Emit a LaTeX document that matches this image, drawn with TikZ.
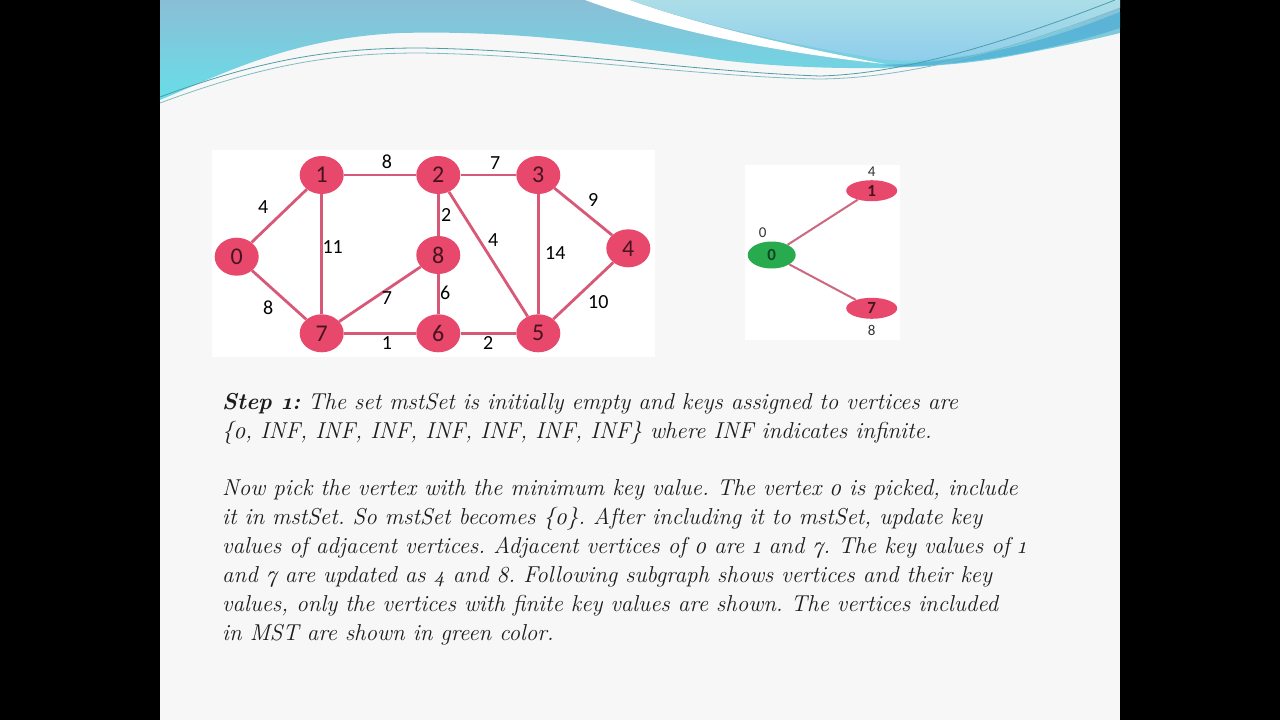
\documentclass[tikz,border=0pt]{standalone}
\usepackage{fontspec}
\setmainfont{Latin Modern Roman}[Numbers=OldStyle]
\newfontfamily\graphfont{Carlito}
\usetikzlibrary{positioning,calc,shapes.geometric}
\definecolor{slidebg}{RGB}{247,247,247}
\definecolor{wavetop}{RGB}{138,190,214}
\definecolor{wavecyan}{RGB}{104,222,232}
\definecolor{palewave}{RGB}{172,222,232}
\definecolor{palewavelow}{RGB}{140,204,236}
\definecolor{steelwave}{RGB}{82,176,214}
\definecolor{waveline}{RGB}{78,158,168}
\definecolor{vertexred}{RGB}{232,72,107}
\definecolor{edgered}{RGB}{216,88,120}
\definecolor{vertextext}{RGB}{70,20,32}
\definecolor{mstgreen}{RGB}{40,170,78}
\definecolor{msttext}{RGB}{20,70,35}
\definecolor{subedge}{RGB}{204,104,128}
\definecolor{textdark}{RGB}{28,28,28}

\begin{document}
\frenchspacing
\begin{tikzpicture}[
		x=1pt,
		y=-1pt,
		vertex/.style={
			ellipse,
			fill=vertexred,
			minimum width=44pt,
			minimum height=38pt,
			inner sep=0pt,
			text=vertextext,
			font=\graphfont\fontsize{24}{24}\selectfont
		},
		subvertex/.style={
			ellipse,
			fill=vertexred,
			minimum width=51pt,
			minimum height=21pt,
			inner sep=0pt,
			text=vertextext,
			font=\graphfont\bfseries\fontsize{17}{17}\selectfont
		},
		edge/.style={draw=edgered, line width=2.8pt},
		subedge/.style={draw=subedge, line width=2pt},
		weight/.style={font=\graphfont\fontsize{20}{20}\selectfont, text=black, inner sep=0pt},
		keylabel/.style={font=\graphfont\fontsize{15}{15}\selectfont, text=black!80, inner sep=0pt},
		para/.style={font=\itshape\fontsize{23}{29}\selectfont, text=textdark, align=left, inner sep=0pt}
	]
	
	% Page and slide
	\useasboundingbox (0,0) rectangle (1280,720);
	\fill[black] (0,0) rectangle (1280,720);
	\fill[slidebg] (160,0) rectangle (1120,720);
	
	% Header wave
	\shade[top color=wavetop, bottom color=wavecyan]
	(160,0) -- (160,100) .. controls (220,75) and (290,38) .. (400,33)
	.. controls (520,30) and (620,45) .. (720,60)
	.. controls (820,72) and (930,70) .. (1000,58)
	.. controls (1060,47) and (1100,38) .. (1120,33) -- (1120,0) -- cycle;
	\fill[white] (585,0) .. controls (660,28) and (770,52) .. (885,64)
	.. controls (780,44) and (690,22) .. (630,0) -- cycle;
	\shade[top color=palewave, bottom color=palewavelow]
	(630,0) .. controls (700,25) and (790,44) .. (885,60)
	.. controls (970,66) and (1060,32) .. (1120,8) -- (1120,0) -- cycle;
	\fill[steelwave, opacity=0.8] (880,65) .. controls (980,62) and (1060,36) .. (1120,12)
	-- (1120,28) .. controls (1060,48) and (980,64) .. (900,67) -- cycle;
	\draw[waveline, line width=0.8pt] (160,97) .. controls (260,60) and (330,48) .. (420,48)
	.. controls (560,50) and (700,72) .. (820,76)
	.. controls (900,74) and (1000,45) .. (1115,0);
	\draw[waveline!70, line width=0.8pt] (160,103) .. controls (260,66) and (330,53) .. (420,53)
	.. controls (560,55) and (700,77) .. (820,79)
	.. controls (910,78) and (1010,50) .. (1120,8);
	
	% Panels
	\fill[white] (212,150) rectangle (655,357);
	\fill[white] (745,165) rectangle (900,340);
	
	% Full graph
	\node[vertex] (v0) at (236.7,256.7) {0};
	\node[vertex] (v1) at (321.7,175) {1};
	\node[vertex] (v2) at (438.3,175) {2};
	\node[vertex] (v3) at (538.3,175) {3};
	\node[vertex] (v4) at (628.3,248.3) {4};
	\node[vertex] (v5) at (538.3,333.3) {5};
	\node[vertex] (v6) at (438.3,333.3) {6};
	\node[vertex] (v7) at (321.7,333.3) {7};
	\node[vertex] (v8) at (438.3,255) {8};
	
	\foreach \a/\b/\w/\dx/\dy in {v0/v1/4/-16/-9, v1/v2/8/7/-13, v2/v3/7/7/-12,
		v3/v4/9/10/-12, v1/v7/11/11/-7, v2/v8/2/8/0, v2/v5/4/5/-14, v3/v5/14/17/-1,
		v0/v7/8/-11/13, v7/v8/7/7/4, v8/v6/6/7/-1, v7/v6/1/7/10, v6/v5/2/0/10,
		v4/v5/10/15/11}{
		\draw[edge] (\a) -- (\b) node[weight, midway, shift={(\dx,\dy)}] {\w};
	}
	
	% Subgraph after step 1
	\node[subvertex, fill=mstgreen, text=msttext, minimum width=48pt, minimum height=27pt,
	label={[keylabel, label distance=3pt, xshift=-9pt]above:0}] (s0) at (771.7,255) {0};
	\node[subvertex, label={[keylabel, label distance=3pt]above:4}] (s1) at (871.7,190.7) {1};
	\node[subvertex, label={[keylabel, label distance=6pt]below:8}] (s7) at (871.7,308.3) {7};
	\draw[subedge] (s0) -- (s1);
	\draw[subedge] (s0) -- (s7);
	
	% Explanation (anchored on the baseline of the last line)
	\node[para, anchor=base west] (step) at (222,438)
	{\textbf{Step 1:} The set mstSet is initially empty and keys assigned to vertices are\\
		\{0, INF, INF, INF, INF, INF, INF, INF\} where INF indicates infinite.};
	\node[para, anchor=base west] (pick) at (222,640)
	{Now pick the vertex with the minimum key value. The vertex 0 is picked, include\\
		it in mstSet. So mstSet becomes \{0\}. After including it to mstSet, update key\\
		values of adjacent vertices. Adjacent vertices of 0 are 1 and 7. The key values of 1\\
		and 7 are updated as 4 and 8. Following subgraph shows vertices and their key\\
		values, only the vertices with finite key values are shown. The vertices included\\
		in MST are shown in green color.};
	
\end{tikzpicture}
\end{document}
